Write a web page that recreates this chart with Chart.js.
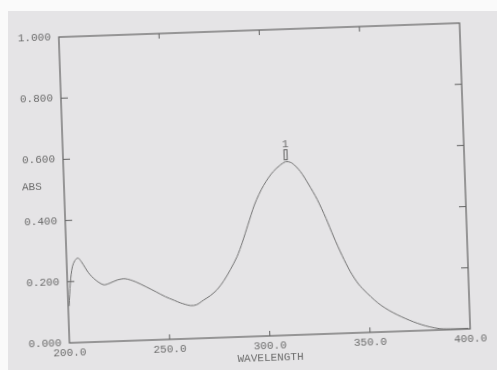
<!DOCTYPE html>
<html>
<head>
<meta charset="utf-8">
<script src="https://cdn.jsdelivr.net/npm/chart.js@4"></script>
<style>
  html, body { margin: 0; padding: 0; background: #fafafa; }
  #paper { position: absolute; left: 8px; top: 11px; width: 489px; height: 359px; background: #e5e4e6; }
  #chart { position: absolute; left: 0; top: 0; transform: rotate(-2deg); transform-origin: 264px 183px; }
</style>
</head>
<body>
<div id="paper"></div>
<canvas id="chart" width="497" height="370"></canvas>
<script>
// spectrum
const wavelength = [200.5, 201.5, 202.8, 204.3, 205.8, 207.5, 210.7, 214, 218, 221, 225, 229, 234, 239, 244, 248.6,
    253, 256, 261, 264, 267.5, 271, 274.5, 278, 281.5, 285, 288, 291, 294.5, 297, 299.5, 302, 304.5, 308, 311, 314,
    318, 322, 326, 330, 333.5, 337.5, 341.3, 345, 349, 353, 356, 360, 364, 368, 372, 376, 380, 385, 392, 399];
const absorbance = [0.12, 0.197, 0.249, 0.270, 0.276, 0.262, 0.227, 0.203, 0.186, 0.190, 0.200, 0.203, 0.192, 0.175, 0.157, 0.140,
    0.127, 0.118, 0.108, 0.110, 0.124, 0.138, 0.157, 0.185, 0.221, 0.262, 0.310, 0.365, 0.428, 0.463, 0.492, 0.516, 0.536, 0.556, 0.567, 0.562,
    0.534, 0.490, 0.440, 0.378, 0.317, 0.253, 0.200, 0.160, 0.130, 0.104, 0.087, 0.069, 0.054, 0.041, 0.029, 0.019, 0.011, 0.004, 0.002, 0.002];
const xTicks = [200, 250, 300, 350, 400];
const yTicks = [0, 0.2, 0.4, 0.6, 0.8, 1.0];
const peakLabel = '1';

const ink = '#6b6b6b';
const font = { family: '"Liberation Mono", "DejaVu Sans Mono", monospace', size: 11 };

// frame, inward ticks, ABS label and peak marker
const framePlugin = {
    id: 'frame',
    afterDraw(chart) {
        const ctx = chart.ctx;
        const a = chart.chartArea;
        const x = chart.scales.x, y = chart.scales.y;
        ctx.save();
        ctx.strokeStyle = '#626262';
        ctx.lineWidth = 1.2;
        ctx.strokeRect(a.left, a.top, a.right - a.left, a.bottom - a.top);

        ctx.lineWidth = 1;
        xTicks.slice(1, -1).forEach(v => {
            const px = x.getPixelForValue(v);
            ctx.beginPath();
            ctx.moveTo(px, a.top); ctx.lineTo(px, a.top + 5);
            ctx.moveTo(px, a.bottom); ctx.lineTo(px, a.bottom - 5);
            ctx.stroke();
        });
        yTicks.slice(1, -1).forEach(v => {
            const py = y.getPixelForValue(v);
            ctx.beginPath();
            ctx.moveTo(a.left, py); ctx.lineTo(a.left + 7, py);
            ctx.moveTo(a.right, py); ctx.lineTo(a.right - 7, py);
            ctx.stroke();
        });

        ctx.fillStyle = ink;
        ctx.font = font.size + 'px ' + font.family;
        ctx.textBaseline = 'middle';
        ctx.textAlign = 'left';
        ctx.fillText('ABS', 22, 179);

        // peak marker
        let k = 0;
        absorbance.forEach((v, i) => { if (v > absorbance[k]) k = i; });
        const px = x.getPixelForValue(wavelength[k]);
        const py = y.getPixelForValue(absorbance[k]);
        ctx.strokeRect(px - 1.5, py - 12, 3, 10);
        ctx.textAlign = 'center';
        ctx.textBaseline = 'bottom';
        ctx.fillText(peakLabel, px, py - 12);
        ctx.restore();
    }
};

new Chart(document.getElementById('chart'), {
    type: 'line',
    data: {
        datasets: [{
            data: wavelength.map((w, i) => ({ x: w, y: absorbance[i] })),
            borderColor: '#727272',
            borderWidth: 1,
            pointRadius: 0,
            tension: 0.3,
            fill: false
        }]
    },
    options: {
        responsive: false,
        animation: false,
        devicePixelRatio: 1,
        layout: { padding: { left: 0, top: 30, right: 32, bottom: 0 } },
        plugins: { legend: { display: false }, tooltip: { enabled: false } },
        scales: {
            x: {
                type: 'linear',
                min: 200,
                max: 400,
                afterBuildTicks: s => { s.ticks = xTicks.map(v => ({ value: v })); },
                afterFit: s => { s.height = 34; },
                grid: { display: false, drawTicks: false },
                border: { display: false },
                ticks: { color: ink, font, padding: 3, maxRotation: 0, autoSkip: false, callback: v => v.toFixed(1) },
                title: { display: true, text: 'WAVELENGTH', color: ink, font, padding: { top: 0, bottom: 5 } }
            },
            y: {
                min: 0,
                max: 1,
                afterBuildTicks: s => { s.ticks = yTicks.map(v => ({ value: v })); },
                afterFit: s => { s.width = 64; },
                grid: { display: false, drawTicks: false },
                border: { display: false },
                ticks: { color: ink, font, padding: 8, callback: v => v.toFixed(3) }
            }
        }
    },
    plugins: [framePlugin]
});
</script>
</body>
</html>
